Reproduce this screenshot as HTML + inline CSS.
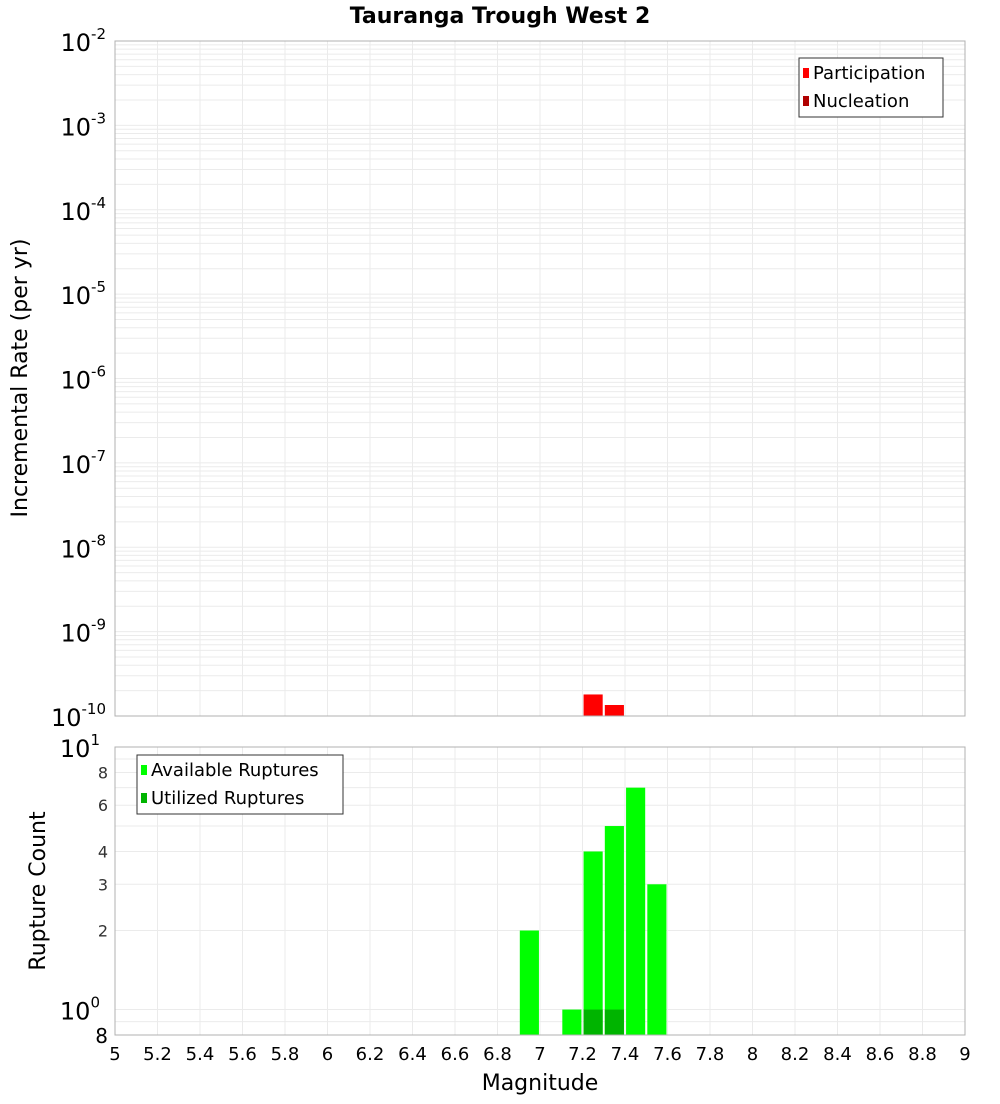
<!DOCTYPE html>
<html><head><meta charset="utf-8"><style>
body{margin:0;background:#fff;font-family:"DejaVu Sans","Liberation Sans",sans-serif}
</style></head><body>
<svg id="c" width="1000" height="1100" xmlns="http://www.w3.org/2000/svg"></svg>
<script>
const mags=[6.95,7.15,7.25,7.35,7.45,7.55];
const available=[2,1,4,5,7,3];
const utilizedMags=[7.25,7.35];
const utilized=[1,1];
const partMags=[7.25,7.35];
const participation=[1.8e-10,1.35e-10];
const xTicks=[5,5.2,5.4,5.6,5.8,6,6.2,6.4,6.6,6.8,7,7.2,7.4,7.6,7.8,8,8.2,8.4,8.6,8.8,9];
const topDecades=[-2,-3,-4,-5,-6,-7,-8,-9,-10];
const botTicks=[2,3,4,6,8];

const svg=document.getElementById('c');
const NS='http://www.w3.org/2000/svg';
function el(t,a,p){const e=document.createElementNS(NS,t);for(const k in a)e.setAttribute(k,a[k]);(p||svg).appendChild(e);return e;}
const X0=115,X1=965;
const x=m=>X0+(m-5)/4*(X1-X0);
const T0=41,T1=716;
const yT=v=>T1-(Math.log10(v)+10)/8*(T1-T0);
const B0=747,B1=1035;
const yB=v=>B1-(Math.log10(v)-Math.log10(0.8))/(1-Math.log10(0.8))*(B1-B0);

let t=el('text',{x:500,y:23,'text-anchor':'middle','font-size':22,'font-weight':'bold'});
t.textContent='Tauranga Trough West 2';

// grids
const g=el('g',{stroke:'#ebebeb','stroke-width':1});

xTicks.forEach(m=>{el('line',{x1:x(m),x2:x(m),y1:T0,y2:T1},g);el('line',{x1:x(m),x2:x(m),y1:B0,y2:B1},g);});
for(let d=-10;d<-2;d++)for(let k=1;k<10;k++){const yy=yT(k*Math.pow(10,d));el('line',{x1:X0,x2:X1,y1:yy,y2:yy},g);}
for(let k=0.9;k<10.01;k+=(k<1?0.1:1)){const yy=yB(k);el('line',{x1:X0,x2:X1,y1:yy,y2:yy},g);}

// top bars
partMags.forEach((m,i)=>{const r=el('rect',{x:x(m-0.045),y:yT(participation[i]),width:x(m+0.045)-x(m-0.045),height:T1-yT(participation[i]),fill:'#ff0000'});
});
// bottom bars
mags.forEach((m,i)=>{const r=el('rect',{x:x(m-0.045),y:yB(available[i]),width:x(m+0.045)-x(m-0.045),height:B1-yB(available[i]),fill:'#00ff00'});
});
utilizedMags.forEach((m,i)=>{const r=el('rect',{x:x(m-0.045),y:yB(utilized[i]),width:x(m+0.045)-x(m-0.045),height:B1-yB(utilized[i]),fill:'#00b400'});
});

// frames
let f=el('rect',{x:X0,y:T0,width:X1-X0,height:T1-T0,fill:'none',stroke:'#b0b0b0'});

f=el('rect',{x:X0,y:B0,width:X1-X0,height:B1-B0,fill:'none',stroke:'#b0b0b0'});


// top y labels
topDecades.forEach(d=>{const yy=yT(Math.pow(10,d));
 const tx=el('text',{x:106,y:yy+10,'text-anchor':'end','font-size':24});
 
 tx.innerHTML='10<tspan dy="-12" font-size="15">'+d+'</tspan>';});
// bottom y labels
botTicks.forEach(v=>{const tx=el('text',{x:108,y:yB(v)+6,'text-anchor':'end','font-size':16,fill:'#333'});
 tx.textContent=v;});
[[10,'1'],[1,'0']].forEach(([v,e])=>{const tx=el('text',{x:100,y:yB(v)+10,'text-anchor':'end','font-size':24});
 
 tx.innerHTML='10<tspan dy="-12" font-size="15">'+e+'</tspan>';});
t=el('text',{x:108,y:1043,'text-anchor':'end','font-size':20});
t.textContent='8';

// x labels
xTicks.forEach(m=>{const tx=el('text',{x:x(m),y:1060,'text-anchor':'middle','font-size':18});
 tx.textContent=String(m);});
t=el('text',{x:540,y:1090,'text-anchor':'middle','font-size':22});
t.textContent='Magnitude';
t=el('text',{x:27,y:378,'text-anchor':'middle','font-size':22,transform:'rotate(-90 27 378)'});
t.textContent='Incremental Rate (per yr)';
t=el('text',{x:45,y:891,'text-anchor':'middle','font-size':22,transform:'rotate(-90 45 891)'});
t.textContent='Rupture Count';

// legends
function legend(x0,y0,w,h,items,name){const lg=el('g',{});
 el('rect',{x:x0,y:y0,width:w,height:h,fill:'#fff',stroke:'#333'},lg);
 items.forEach(([c,s],i)=>{el('rect',{x:x0+4,y:y0+10+i*28,width:6,height:10,fill:c},lg);
 const tx=el('text',{x:x0+14,y:y0+21+i*28,'font-size':18},lg);tx.textContent=s;});}
legend(799,58,144,59,[['#ff0000','Participation'],['#b00000','Nucleation']],'top-legend');
legend(137,755,206,59,[['#00ff00','Available Ruptures'],['#00b400','Utilized Ruptures']],'bottom-legend');
</script>
</body></html>
